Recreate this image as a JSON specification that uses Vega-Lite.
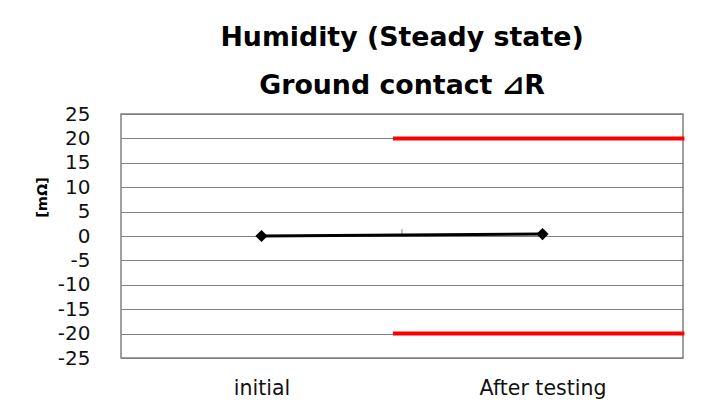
{
  "$schema": "https://vega.github.io/schema/vega-lite/v6.json",
  "width": 562,
  "height": 244,
  "autosize": "none",
  "padding": {"left": 121, "top": 114, "right": 26, "bottom": 50},
  "background": "white",
  "config": {
    "view": {"stroke": "#808080", "strokeWidth": 1.5},
    "font": "DejaVu Sans",
    "axis": {"labelOverlap": false, "labelBound": false, "labelFlush": false}
  },
  "title": {
    "text": ["Humidity (Steady state)", "Ground contact ⊿R"],
    "font": "DejaVu Sans",
    "fontSize": 26.8,
    "fontWeight": "bold",
    "color": "black",
    "lineHeight": 48,
    "anchor": "middle",
    "offset": 4
  },
  "datasets": {
    "series": [
      {"stage": "initial", "pos": 0.5, "dR": 0},
      {"stage": "After testing", "pos": 1.5, "dR": 0.4}
    ],
    "limits": [
      {"name": "upper", "x_start": 0.968, "x_end": 2.005, "limit": 20},
      {"name": "lower", "x_start": 0.968, "x_end": 2.005, "limit": -20}
    ],
    "tick": [
      {"pos": 1, "y0": 0, "y1": 1.4}
    ]
  },
  "layer": [
    {
      "data": {"name": "tick"},
      "mark": {"type": "rule", "color": "#808080", "strokeWidth": 1},
      "encoding": {
        "x": {
          "field": "pos",
          "type": "quantitative",
          "scale": {"domain": [0, 2], "nice": false, "zero": false},
          "axis": {
            "title": null,
            "values": [0.5, 1.5],
            "tickCount": 10,
            "labelExpr": "datum.value == 0.5 ? 'initial' : 'After testing'",
            "grid": false,
            "ticks": false,
            "domain": false,
            "labelFontSize": 20.5,
            "labelColor": "#111111",
            "labelPadding": 20,
            "labelOverlap": false,
            "labelFont": "DejaVu Sans"
          }
        },
        "y": {
          "field": "y0",
          "type": "quantitative",
          "scale": {"domain": [-25, 25], "nice": false, "zero": false},
          "axis": {
            "title": "[mΩ]",
            "titleFont": "DejaVu Sans",
            "titleFontSize": 14.5,
            "titleFontWeight": "bold",
            "titleColor": "black",
            "titleAngle": -90,
            "titleX": -79,
            "titleY": 83,
            "titleAlign": "center",
            "titleBaseline": "middle",
            "values": [-25, -20, -15, -10, -5, 0, 5, 10, 15, 20, 25],
            "tickCount": 20,
            "labelExpr": "'' + datum.value",
            "labelOverlap": false,
            "grid": true,
            "gridColor": "#808080",
            "gridWidth": 1.2,
            "ticks": false,
            "domain": false,
            "labelFontSize": 20,
            "labelColor": "#111111",
            "labelPadding": 31,
            "labelFont": "DejaVu Sans"
          }
        },
        "y2": {"field": "y1"}
      }
    },
    {
      "data": {"name": "limits"},
      "mark": {"type": "rule", "color": "#ff0000", "strokeWidth": 4},
      "encoding": {
        "x": {"field": "x_start", "type": "quantitative"},
        "x2": {"field": "x_end"},
        "y": {"field": "limit", "type": "quantitative"}
      }
    },
    {
      "data": {"name": "series"},
      "mark": {"type": "line", "color": "black", "strokeWidth": 3},
      "encoding": {
        "x": {"field": "pos", "type": "quantitative"},
        "y": {"field": "dR", "type": "quantitative"}
      }
    },
    {
      "data": {"name": "series"},
      "mark": {"type": "point", "shape": "diamond", "filled": true, "color": "black", "size": 150, "opacity": 1},
      "encoding": {
        "x": {"field": "pos", "type": "quantitative"},
        "y": {"field": "dR", "type": "quantitative"}
      }
    }
  ]
}
